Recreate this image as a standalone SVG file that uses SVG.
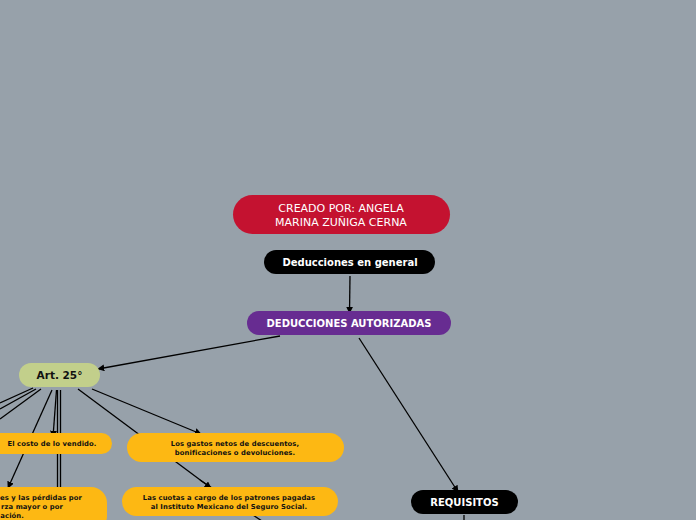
<svg xmlns="http://www.w3.org/2000/svg" width="696" height="520" viewBox="0 0 696 520">
<defs>
<marker id="ah" viewBox="0 0 10 10" refX="9" refY="5" markerWidth="7" markerHeight="7" markerUnits="userSpaceOnUse" orient="auto"><path d="M0,0 L10,5 L0,10 z" fill="#000"/></marker>
<style>
.c{stroke:#000;stroke-width:1.3;fill:none}
.a{marker-end:url(#ah)}
.t{font-family:"DejaVu Sans",Verdana,sans-serif;text-anchor:middle}
.b{font-weight:bold}
.y{fill:#fdb813}
.s{font-size:6.8px;font-weight:bold;fill:#111;letter-spacing:0.1px}
</style>
</defs>
<rect width="696" height="520" fill="#97a1aa"/>
<g id="connectors">
<line class="c a" x1="350" y1="276" x2="349.5" y2="313"/>
<line class="c a" x1="280" y1="336" x2="98" y2="369"/>
<line class="c a" x1="359" y1="338" x2="458" y2="492"/>
<line class="c" x1="464" y1="515" x2="464" y2="521"/>
<line class="c" x1="33" y1="388" x2="0" y2="403"/>
<line class="c" x1="36" y1="389" x2="0" y2="409"/>
<line class="c" x1="41" y1="389" x2="0" y2="419"/>
<line class="c a" x1="52" y1="390" x2="8" y2="488"/>
<line class="c a" x1="56.5" y1="390" x2="53" y2="437"/>
<line class="c" x1="57.5" y1="390" x2="57.5" y2="521" stroke-width="1.1"/>
<line class="c" x1="60.5" y1="390" x2="60.5" y2="521" stroke-width="1.1"/>
<line class="c a" x1="78" y1="389" x2="211" y2="488"/>
<line class="c a" x1="92" y1="389" x2="201" y2="434"/>
<line class="c" x1="200" y1="480" x2="262" y2="521"/>
</g>
<g id="creado">
<rect x="233" y="195" width="217" height="39" rx="19.5" fill="#c41230"/>
<text class="t" x="341" y="212" font-size="11" fill="#fff">CREADO POR: ANGELA</text>
<text class="t" x="341" y="226" font-size="11" fill="#fff">MARINA ZUÑIGA CERNA</text>
</g>
<g id="general">
<rect x="264" y="250" width="171" height="24" rx="12" fill="#000"/>
<text class="t b" x="350" y="265.5" font-size="10" fill="#fff">Deducciones en general</text>
</g>
<g id="autorizadas">
<rect x="247" y="311" width="204" height="24" rx="12" fill="#672c91"/>
<text class="t b" x="349" y="326.5" font-size="10" fill="#fff">DEDUCCIONES AUTORIZADAS</text>
</g>
<g id="art25">
<rect x="19" y="363" width="81" height="24" rx="12" fill="#c2cf8b"/>
<text class="t b" x="59.5" y="379" font-size="10.5" fill="#111">Art. 25°</text>
</g>
<g id="requisitos">
<rect x="411" y="490" width="107" height="24" rx="12" fill="#000"/>
<text class="t b" x="464.5" y="506" font-size="10" fill="#fff">REQUISITOS</text>
</g>
<g id="costo">
<rect class="y" x="-20" y="433" width="132" height="21" rx="10.5"/>
<text class="t s" x="52" y="446">El costo de lo vendido.</text>
</g>
<g id="gastos">
<rect class="y" x="127" y="433" width="217" height="29" rx="14.5"/>
<text class="t s" x="235" y="445.5">Los gastos netos de descuentos,</text>
<text class="t s" x="235" y="455">bonificaciones o devoluciones.</text>
</g>
<g id="cuotas">
<rect class="y" x="122" y="487" width="216" height="29" rx="14.5"/>
<text class="t s" x="229" y="499.5">Las cuotas a cargo de los patrones pagadas</text>
<text class="t s" x="229" y="509">al Instituto Mexicano del Seguro Social.</text>
</g>
<g id="creditos">
<rect class="y" x="-40" y="487" width="147" height="45" rx="16"/>
<text class="s" x="82" y="499.5" font-family="DejaVu Sans,Verdana,sans-serif" text-anchor="end">es y las pérdidas por</text>
<text class="s" x="63" y="509" font-family="DejaVu Sans,Verdana,sans-serif" text-anchor="end">rza mayor o por</text>
<text class="s" x="24" y="518" font-family="DejaVu Sans,Verdana,sans-serif" text-anchor="end">ación.</text>
</g>
</svg>
